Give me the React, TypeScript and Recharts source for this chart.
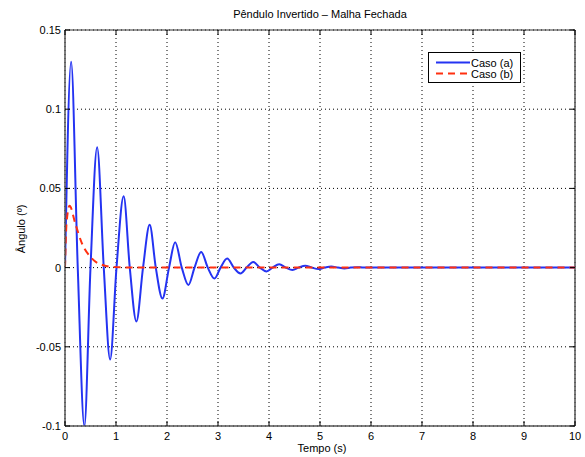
import { useLayoutEffect } from "react";
import { LineChart, Line, XAxis, YAxis, CartesianGrid, ReferenceLine } from "recharts";

// tempo (s) e ângulo
const caseATime = [
  0, 0.12, 0.25, 0.38, 0.5, 0.63, 0.76, 0.885, 1.01, 1.15, 1.27, 1.4, 1.53, 1.66, 1.78, 1.91,
  2.04, 2.16, 2.29, 2.42, 2.54, 2.67, 2.8, 2.93, 3.05, 3.18, 3.31, 3.44, 3.56, 3.69, 3.82, 3.95,
  4.07, 4.2, 4.33, 4.46, 4.58, 4.71, 4.84, 4.97, 5.09, 5.22, 5.35, 5.48, 5.6, 5.73, 5.86, 10,
];
const caseAAngle = [
  0, 0.13, 0, -0.1, 0, 0.076, 0, -0.058, 0, 0.045, 0, -0.034, 0, 0.027, 0, -0.0195,
  0, 0.016, 0, -0.011, 0, 0.0099, 0, -0.0069, 0, 0.0057, 0, -0.0037, 0, 0.0036, 0, -0.0025,
  0, 0.0021, 0, -0.0015, 0, 0.0012, 0, -0.0009, 0, 0.0007, 0, -0.0005, 0, 0.0003, 0, 0,
];
const caseBTime = [0, 0.03, 0.09, 0.2, 0.33, 0.52, 0.75, 1.0, 1.5, 10];
const caseBAngle = [0, 0.028, 0.039, 0.028, 0.0154, 0.006, 0.0015, 0.0003, 0, 0];

const xTicks = [0, 1, 2, 3, 4, 5, 6, 7, 8, 9, 10];
const yTicks = [-0.1, -0.05, 0, 0.05, 0.1, 0.15];
const yTickLabels = ["-0.1", "-0.05", "0", "0.05", "0.1", "0.15"];

const caseA = caseATime.map((t, i) => ({ t, angle: caseAAngle[i] }));
const caseB = caseBTime.map((t, i) => ({ t, angle: caseBAngle[i] }));

const BLUE = "#2433f2";
const RED = "#ff3010";
const FONT = "'Liberation Sans', Arial, Helvetica, sans-serif";

const TOP = 30;
const BOTTOM = 426;
const LEFT = 65;
const RIGHT = 575;

const XTick = (props: any) => {
  const { x, payload } = props;
  return (
    <g>
      <line x1={x} x2={x} y1={BOTTOM} y2={BOTTOM - 5} stroke="#000" />
      <line x1={x} x2={x} y1={TOP} y2={TOP + 5} stroke="#000" />
      <text x={x} y={BOTTOM + 14} textAnchor="middle" fontSize={11} fontFamily={FONT} fill="#000">
        {payload.value}
      </text>
    </g>
  );
};

const YTick = (props: any) => {
  const { y, payload } = props;
  const idx = yTicks.indexOf(payload.value);
  return (
    <g>
      <line x1={LEFT} x2={LEFT + 5} y1={y} y2={y} stroke="#000" />
      <line x1={RIGHT} x2={RIGHT - 5} y1={y} y2={y} stroke="#000" />
      <text x={LEFT - 4} y={y + 4} textAnchor="end" fontSize={11} fontFamily={FONT} fill="#000">
        {idx >= 0 ? yTickLabels[idx] : payload.value}
      </text>
    </g>
  );
};

const XLabel = (props: any) => {
  const { viewBox } = props;
  return (
    <text
      x={viewBox.x + viewBox.width / 2 + 2}
      y={452}
      textAnchor="middle"
      fontSize={11}
      fontFamily={FONT}
      fill="#000"
    >
      Tempo (s)
    </text>
  );
};

const LegendBox = () => (
  <div
    style={{
      position: "absolute",
      left: 428,
      top: 52,
      width: 93,
      height: 31,
      border: "1px solid #000",
      background: "#fff",
      boxSizing: "border-box",
    }}
  >
    <svg width={91} height={29} style={{ display: "block" }}>
      <line x1={7} x2={41} y1={9.5} y2={9.5} stroke={BLUE} strokeWidth={2} />
      <text x={42} y={13.5} fontSize={11} fontFamily={FONT}>Caso (a)</text>
      <line x1={7} x2={41} y1={20.5} y2={20.5} stroke={RED} strokeWidth={2} strokeDasharray="7 5" />
      <text x={42} y={24.5} fontSize={11} fontFamily={FONT}>Caso (b)</text>
    </svg>
  </div>
);

export default function App() {
  useLayoutEffect(() => {
    document.body.style.margin = "0";
  }, []);

  return (
    <div style={{ position: "relative", width: 585, height: 457, background: "#fff" }}>
      <LineChart width={585} height={457} margin={{ top: TOP, right: 10, bottom: 0, left: 0 }}>
        <CartesianGrid stroke="#000" strokeDasharray="1 3" />
        <XAxis
          type="number"
          dataKey="t"
          domain={[0, 10]}
          ticks={xTicks}
          height={31}
          tickSize={0}
          tickLine={false}
          axisLine={{ stroke: "#555", strokeWidth: 1.5 }}
          tick={<XTick />}
          label={<XLabel />}
          allowDataOverflow
        />
        <YAxis
          type="number"
          domain={[-0.1, 0.15]}
          ticks={yTicks}
          width={65}
          tickSize={0}
          tickLine={false}
          axisLine={{ stroke: "#555", strokeWidth: 1.5 }}
          tick={<YTick />}
          allowDataOverflow
        />
        <ReferenceLine y={0.15} stroke="#333" strokeWidth={1} />
        <ReferenceLine x={10} stroke="#555" strokeWidth={1.5} />
        <Line
          data={caseA}
          dataKey="angle"
          type="monotone"
          stroke={BLUE}
          strokeWidth={2}
          dot={false}
          isAnimationActive={false}
        />
        <Line
          data={caseB}
          dataKey="angle"
          type="monotone"
          stroke={RED}
          strokeWidth={2}
          strokeDasharray="7 5"
          dot={false}
          isAnimationActive={false}
        />
      </LineChart>
      <LegendBox />
      <div
        style={{
          position: "absolute",
          left: 0,
          width: 640,
          top: 8,
          textAlign: "center",
          fontFamily: FONT,
          fontSize: 11,
        }}
      >
        Pêndulo Invertido – Malha Fechada
      </div>
      <div
        style={{
          position: "absolute",
          left: 21,
          top: 229,
          transform: "translate(-50%, -50%) rotate(-90deg)",
          whiteSpace: "nowrap",
          fontFamily: FONT,
          fontSize: 11,
        }}
      >
        Ângulo (º)
      </div>
    </div>
  );
}
